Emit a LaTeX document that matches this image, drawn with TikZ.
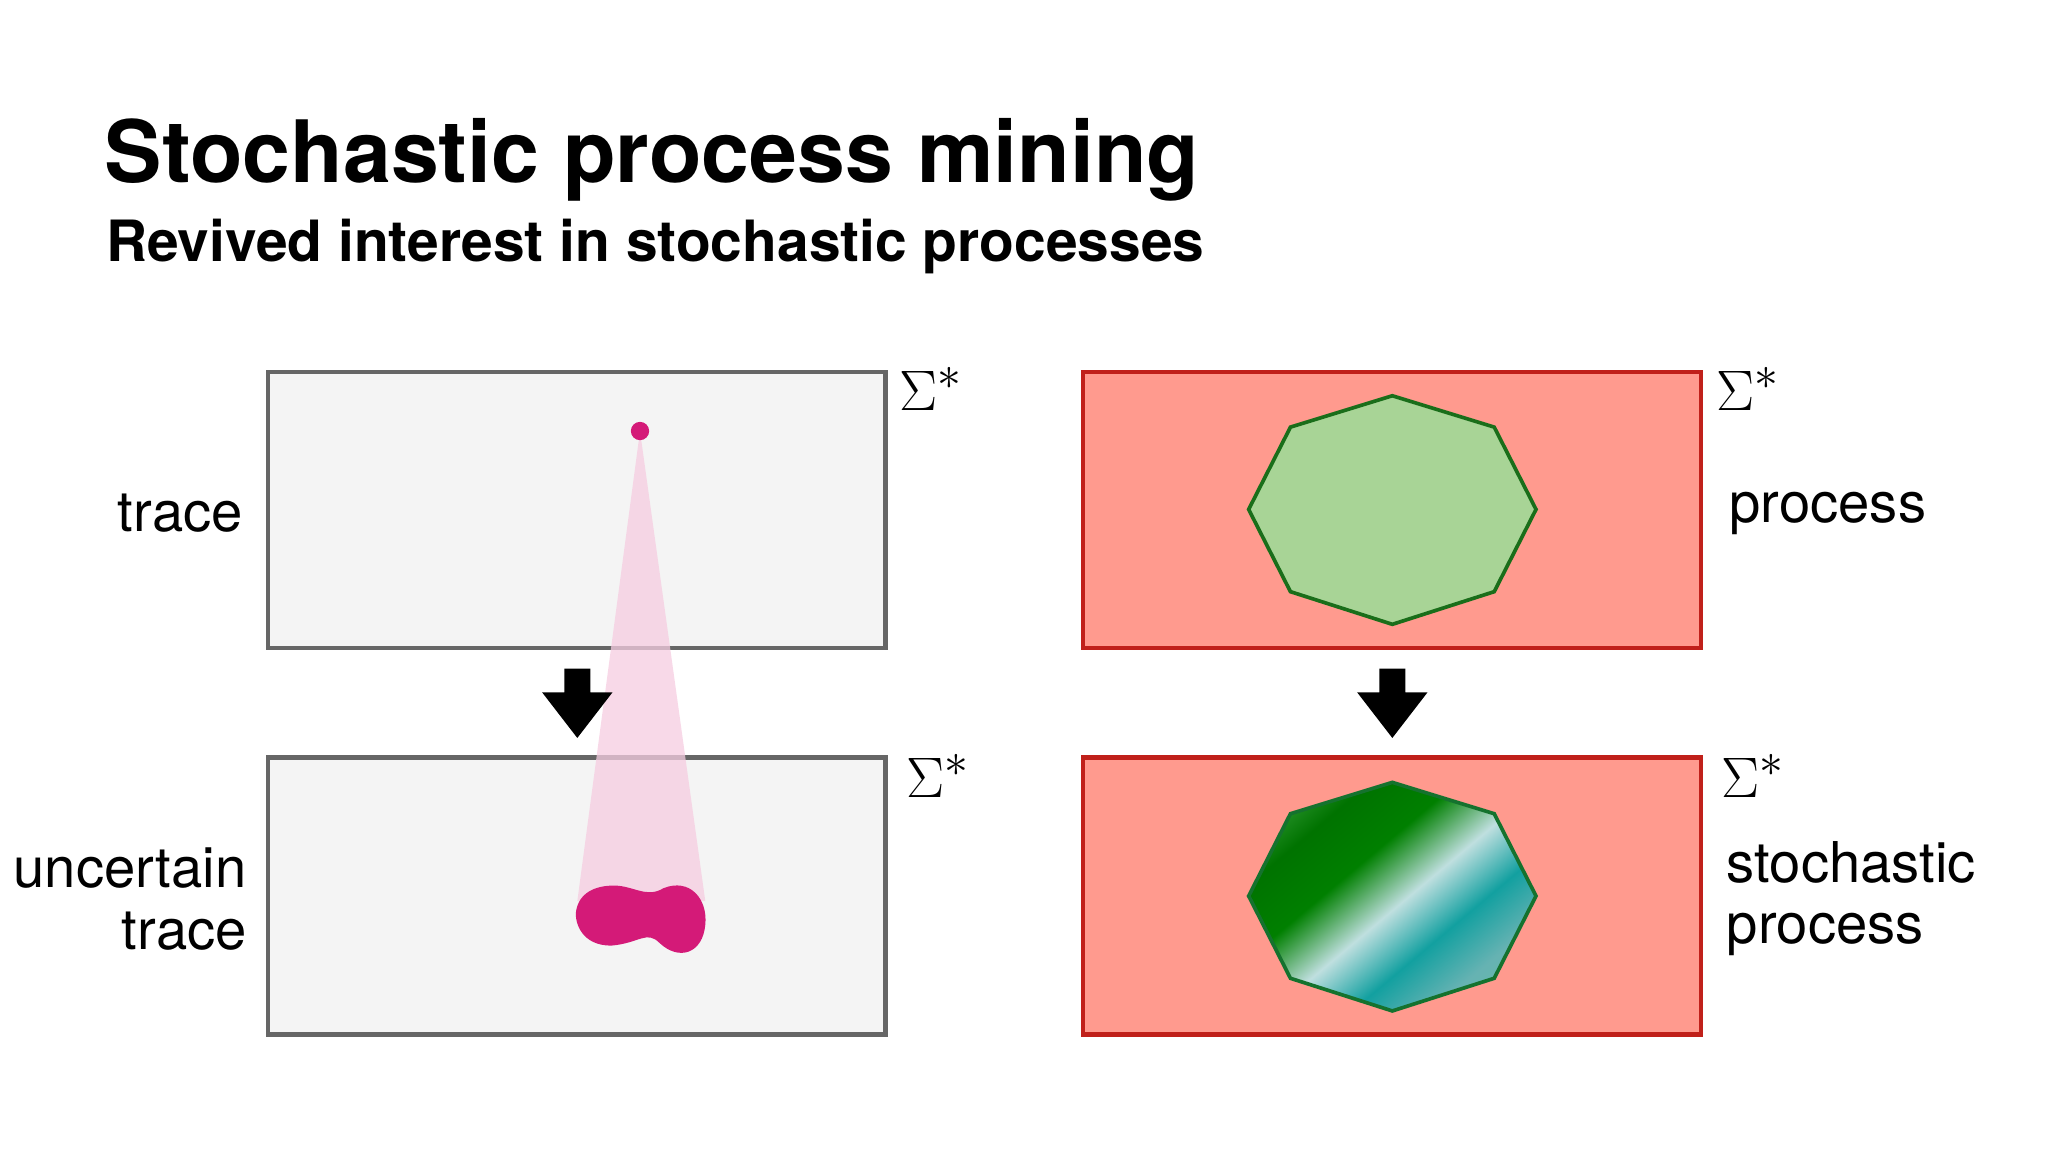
\documentclass[tikz,border=0pt]{standalone}
\usepackage{fontspec}
\setmainfont{TeX Gyre Heros}
\definecolor{boxgray}{HTML}{F4F4F4}
\definecolor{boxedge}{HTML}{666666}
\definecolor{redfill}{HTML}{FF9A8E}
\definecolor{rededge}{HTML}{C0201A}
\definecolor{octfill}{HTML}{A8D496}
\definecolor{octedge}{HTML}{1A6E1A}
\definecolor{mag}{HTML}{D41A78}
\definecolor{teal2}{HTML}{12A0A0}
\pgfdeclarehorizontalshading{stripes}{100bp}{color(0bp)=(green!30!white!90!teal);color(30bp)=(green!45!black);color(41bp)=(green!50!black);color(52bp)=(teal!25!white);color(62bp)=(teal2);color(72bp)=(teal!60!white);color(100bp)=(green!40!teal!60!white)}
\tikzset{
 graybox/.style={draw=boxedge,fill=boxgray,line width=1.8pt},
 redbox/.style={draw=rededge,fill=redfill,line width=1.8pt},
 sig/.style={font=\fontsize{32}{34}\selectfont,anchor=center},
 lbl/.style={font=\fontsize{24.5}{27}\selectfont,align=right},
 blockarrow/.style={fill=black,draw=none}
}
\begin{document}
\begin{tikzpicture}[x=0.02cm,y=-0.02cm]
\useasboundingbox[fill=white] (0,0) rectangle (1568,882);
\node[anchor=base west,inner sep=0,font=\fontsize{37.5}{40}\selectfont\bfseries] (title) at (80,140) {Stochastic process mining};
\node[anchor=base west,inner sep=0,font=\fontsize{24.8}{27}\selectfont\bfseries] (sub) at (81,200) {Revived interest in stochastic processes};
% left boxes
\draw[graybox] (205,285) rectangle (678,496);
\draw[graybox] (205,580) rectangle (678,792);
\node[sig] (s1) at (713,298) {$\Sigma^*$};
\node[sig] (s2) at (718,594) {$\Sigma^*$};
\node[lbl,anchor=east] (trace) at (192,393) {trace};
\node[lbl,anchor=east] (utrace) at (195,688) {uncertain\\trace};
% cone
\fill[mag!22,opacity=0.75] (490,330) -- (442,690) -- (540,690) -- cycle;
\fill[mag] (490,330) circle (7);
\fill[mag] (470,678) .. controls (485,678) and (495,688) .. (508,680)
  .. controls (528,672) and (542,688) .. (540,708)
  .. controls (538,730) and (520,736) .. (505,722)
  .. controls (495,712) and (490,722) .. (468,724)
  .. controls (445,724) and (440,706) .. (441,698)
  .. controls (443,684) and (455,678) .. (470,678) -- cycle;
\coordinate (a1) at (442,512);
\fill[blockarrow] (a1) ++(-10,0) -- ++(20,0) -- ++(0,18) -- ++(17,0) -- ++(-27,35) -- ++(-27,-35) -- ++(17,0) -- cycle;
% right boxes
\draw[redbox] (829,285) rectangle (1302,496);
\draw[redbox] (829,580) rectangle (1302,792);
\node[sig] (s3) at (1338,298) {$\Sigma^*$};
\node[sig] (s4) at (1342,594) {$\Sigma^*$};
\node[lbl,anchor=west,align=left] (proc) at (1318,393) {process};
\node[lbl,anchor=west,align=left] (sproc) at (1316,688) {stochastic\\process};
\draw[draw=octedge,fill=octfill,line width=1.6pt] (1066,303)--(1144,327)--(1176,390)--(1144,453)--(1066,478)--(988,453)--(956,390)--(988,327)--cycle;
\draw[draw=octedge!80!teal,shading=stripes,shading angle=-50,line width=1.6pt] (1066,599)--(1144,623)--(1176,686)--(1144,749)--(1066,774)--(988,749)--(956,686)--(988,623)--cycle;
\coordinate (a2) at (1066,512);
\fill[blockarrow] (a2) ++(-10,0) -- ++(20,0) -- ++(0,18) -- ++(17,0) -- ++(-27,35) -- ++(-27,-35) -- ++(17,0) -- cycle;
\end{tikzpicture}
\end{document}
